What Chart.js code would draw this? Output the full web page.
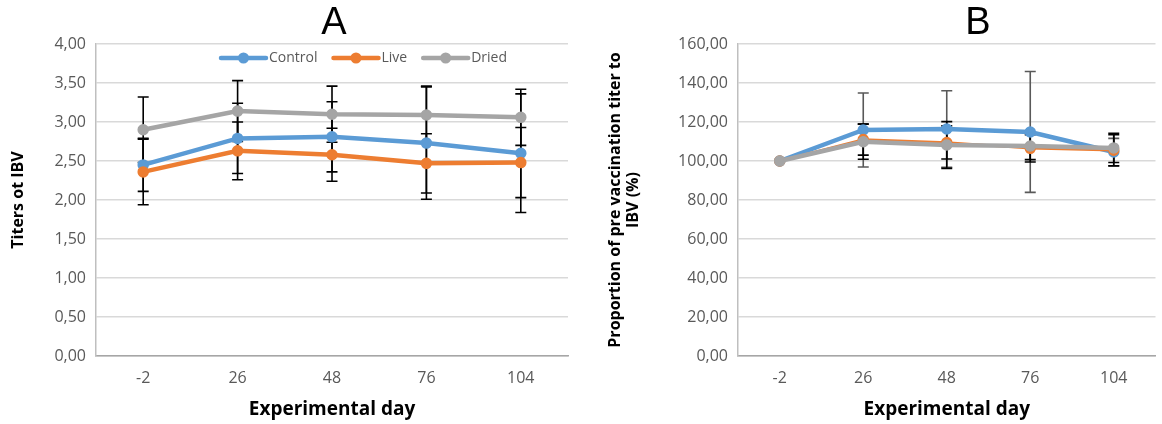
<!DOCTYPE html>
<html>
<head>
<meta charset="utf-8">
<script src="https://cdn.jsdelivr.net/npm/chart.js@4.4.0/dist/chart.umd.min.js"></script>
<style>
  html, body { margin: 0; padding: 0; background: #fff; }
  #wrap { position: relative; width: 1162px; height: 424px; overflow: hidden; }
  #chartA { position: absolute; left: 0; top: 0; }
  #chartB { position: absolute; left: 580px; top: 0; }
</style>
</head>
<body>
<div id="wrap">
  <canvas id="chartA" width="580" height="424"></canvas>
  <canvas id="chartB" width="582" height="424"></canvas>
</div>
<script>
const days = ["-2", "26", "48", "76", "104"];
const seriesNames = ["Control", "Live", "Dried"];

// panel A: titers
const controlTiter = [2.45, 2.79, 2.81, 2.73, 2.60];
const liveTiter = [2.36, 2.63, 2.58, 2.47, 2.48];
const driedTiter = [2.90, 3.14, 3.10, 3.09, 3.06];
const controlTiterErr = [0.34, 0.45, 0.45, 0.72, 0.76];
const liveTiterErr = [0.42, 0.37, 0.34, 0.38, 0.45];
const driedTiterErr = [0.42, 0.39, 0.36, 0.37, 0.36];

// panel B: % of pre vaccination titer
const controlPct = [100, 115.9, 116.4, 114.9, 104.6];
const livePct = [100, 111.0, 109.5, 106.5, 105.5];
const driedPct = [100, 109.9, 108.2, 107.7, 106.7];
const controlPctErr = [0, 19, 19.6, 31, 7];
const livePctErr = [0, 8, 8.5, 7, 8];
const driedPctErr = [0, 9, 12, 7, 7.5];

const blue = "#5B9BD5", orange = "#ED7D31", grey = "#A5A5A5";
const tickColor = "#595959";

function fmt(v) { return v.toFixed(2).replace(".", ","); }

const errorBarPlugin = {
  id: "errorBars",
  beforeDatasetsDraw(chart) {
    const ctx = chart.ctx;
    const y = chart.scales.y;
    chart.data.datasets.forEach((ds, di) => {
      if (!ds.errors) return;
      const meta = chart.getDatasetMeta(di);
      ctx.save();
      ctx.strokeStyle = ds.errorColor;
      ctx.lineWidth = ds.errorWidth;
      meta.data.forEach((pt, i) => {
        const e = ds.errors[i];
        if (!e) return;
        const top = y.getPixelForValue(ds.data[i] + e);
        const bot = y.getPixelForValue(ds.data[i] - e);
        ctx.beginPath();
        ctx.moveTo(pt.x, top); ctx.lineTo(pt.x, bot);
        ctx.moveTo(pt.x - 5.5, top); ctx.lineTo(pt.x + 5.5, top);
        ctx.moveTo(pt.x - 5.5, bot); ctx.lineTo(pt.x + 5.5, bot);
        ctx.stroke();
      });
      ctx.restore();
    });
  }
};

const insideLegend = {
  id: "insideLegend",
  afterDraw(chart, args, opts) {
    if (!opts || !opts.show) return;
    const ctx = chart.ctx;
    ctx.save();
    ctx.font = '14px "Open Sans"';
    ctx.textBaseline = "middle";
    let x = opts.x;
    chart.data.datasets.forEach(ds => {
      ctx.strokeStyle = ds.borderColor;
      ctx.lineWidth = 4.5;
      ctx.lineCap = "round";
      ctx.beginPath(); ctx.moveTo(x + 2, opts.y); ctx.lineTo(x + 47, opts.y); ctx.stroke();
      ctx.fillStyle = ds.borderColor;
      ctx.beginPath(); ctx.arc(x + 24.5, opts.y, 5.5, 0, Math.PI * 2); ctx.fill();
      ctx.fillStyle = tickColor;
      ctx.fillText(ds.label, x + 50, opts.y);
      x += 50 + ctx.measureText(ds.label).width + 14;
    });
    ctx.restore();
  }
};

const panelTitle = {
  id: "panelTitle",
  afterDraw(chart, args, opts) {
    const ctx = chart.ctx;
    ctx.save();
    ctx.font = '38px "Liberation Sans"';
    ctx.fillStyle = "#000";
    ctx.textAlign = "center";
    ctx.textBaseline = "middle";
    ctx.fillText(opts.text, opts.x, opts.y);
    ctx.restore();
  }
};

function lineSet(label, data, errs, color, width, errColor) {
  return {
    label: label,
    data: data,
    errors: errs,
    errorColor: errColor,
    errorWidth: 1.6,
    borderColor: color,
    backgroundColor: color,
    borderWidth: width,
    pointRadius: 5,
    pointBorderWidth: 1.5,
    pointBackgroundColor: color,
    pointBorderColor: color,
    tension: 0
  };
}

function makeOptions(cfg) {
  return {
    responsive: false,
    animation: false,
    events: [],
    layout: { padding: { top: 44, right: cfg.padRight, left: 0, bottom: 0 } },
    plugins: {
      legend: { display: false },
      tooltip: { enabled: false },
      title: { display: false },
      insideLegend: cfg.legend,
      panelTitle: cfg.title
    },
    scales: {
      x: {
        offset: true,
        grid: { display: false, drawTicks: false },
        border: { display: true, color: "#a6a6a6", width: 1.5 },
        ticks: { color: tickColor, padding: 13, font: { family: "Open Sans", size: 16 } },
        title: {
          display: true, text: "Experimental day", color: "#000",
          font: { family: "Open Sans", size: 19, weight: "bold", lineHeight: 1.2 },
          padding: { top: 0, bottom: 3.5 }
        },
        afterFit(scale) { scale.height = 68; }
      },
      y: {
        min: cfg.min, max: cfg.max,
        grid: { color: "#d9d9d9", lineWidth: 1.5, drawTicks: false },
        border: { display: true, color: "#bfbfbf", width: 1.5 },
        ticks: {
          stepSize: cfg.step, color: tickColor, padding: 10,
          font: { family: "Open Sans", size: 16 },
          callback: v => fmt(v)
        },
        title: {
          display: true, text: cfg.yTitle, color: "#000",
          font: { family: "Open Sans", size: 16, weight: "bold", lineHeight: 1.15 },
          padding: { top: cfg.yTitlePad, bottom: 0 }
        },
        afterFit(scale) { scale.width = cfg.yWidth; }
      }
    }
  };
}

new Chart(document.getElementById("chartA"), {
  type: "line",
  data: {
    labels: days,
    datasets: [
      Object.assign(lineSet(seriesNames[0], controlTiter, controlTiterErr, blue, 4.5, "#000"), { order: 3 }),
      Object.assign(lineSet(seriesNames[1], liveTiter, liveTiterErr, orange, 4.5, "#000"), { order: 2 }),
      Object.assign(lineSet(seriesNames[2], driedTiter, driedTiterErr, grey, 4.5, "#000"), { order: 1 })
    ]
  },
  options: makeOptions({
    min: 0, max: 4, step: 0.5, yWidth: 96, padRight: 12,
    yTitle: "Titers ot IBV", yTitlePad: 9,
    legend: { show: true, x: 219, y: 58 },
    title: { text: "A", x: 334, y: 24 }
  }),
  plugins: [errorBarPlugin, insideLegend, panelTitle]
});

new Chart(document.getElementById("chartB"), {
  type: "line",
  data: {
    labels: days,
    datasets: [
      Object.assign(lineSet(seriesNames[0], controlPct, controlPctErr, blue, 4.5, "#595959"), { order: 3 }),
      Object.assign(lineSet(seriesNames[1], livePct, livePctErr, orange, 2.5, "#000"), { order: 2 }),
      Object.assign(lineSet(seriesNames[2], driedPct, driedPctErr, grey, 4.5, "#000"), { order: 1 })
    ]
  },
  options: makeOptions({
    min: 0, max: 160, step: 20, yWidth: 158, padRight: 0,
    yTitle: ["Proportion of pre vaccination titer to", "IBV (%)"], yTitlePad: 26,
    legend: { show: false },
    title: { text: "B", x: 398, y: 24 }
  }),
  plugins: [errorBarPlugin, insideLegend, panelTitle]
});
</script>
</body>
</html>
